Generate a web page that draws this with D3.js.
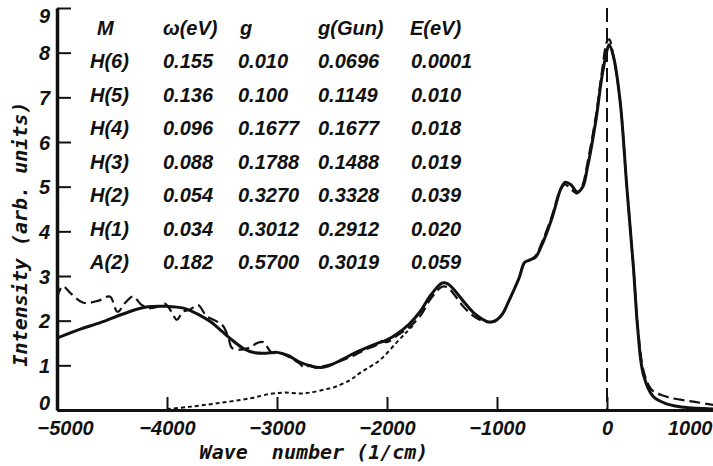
<!DOCTYPE html>
<html>
<head>
<meta charset="utf-8">
<script src="https://cdn.jsdelivr.net/npm/d3@7"></script>
<style>
  html, body { margin: 0; padding: 0; background: #fff; }
  svg { display: block; }
  .tick text { font-family: "Liberation Sans", Arial, sans-serif; font-style: italic; font-weight: bold; font-size: 20px; fill: #111; }
  .tbl { font-family: "Liberation Sans", Arial, sans-serif; font-style: italic; font-weight: bold; font-size: 20px; fill: #111; }
  .title { font-family: "DejaVu Sans Mono", monospace; font-style: italic; font-weight: bold; font-size: 20px; fill: #111; }
</style>
</head>
<body>
<svg id="chart" width="713" height="466"></svg>
<script>
// ---- data ----
const xTicks = [-5000, -4000, -3000, -2000, -1000, 0, 1000];
const yTicks = [0, 1, 2, 3, 4, 5, 6, 7, 8, 9];

const tableHeader = ["M", "ω(eV)", "g", "g(Gun)", "E(eV)"];
const modes  = ["H(6)", "H(5)", "H(4)", "H(3)", "H(2)", "H(1)", "A(2)"];
const omega  = ["0.155", "0.136", "0.096", "0.088", "0.054", "0.034", "0.182"];
const gVals  = ["0.010", "0.100", "0.1677", "0.1788", "0.3270", "0.3012", "0.5700"];
const gGun   = ["0.0696", "0.1149", "0.1677", "0.1488", "0.3328", "0.2912", "0.3019"];
const energy = ["0.0001", "0.010", "0.018", "0.019", "0.039", "0.020", "0.059"];

// theory (solid)
const theoryX = [-5000,-4800,-4600,-4400,-4200,-4000,-3850,-3700,-3600,-3500,-3400,-3300,-3200,-3100,-3000,-2900,-2800,-2700,-2600,-2500,-2400,-2300,-2200,-2100,-2000,-1900,-1800,-1700,-1600,-1500,-1450,-1400,-1300,-1200,-1100,-1050,-1000,-950,-900,-800,-750,-700,-650,-600,-500,-420,-380,-330,-270,-220,-180,-100,-50,0,20,60,120,180,240,280,330,420,550,700,1000];
const theoryY = [1.61,1.80,1.96,2.15,2.30,2.32,2.28,2.12,1.97,1.76,1.55,1.37,1.28,1.27,1.29,1.22,1.08,0.99,0.95,1.02,1.14,1.27,1.38,1.48,1.57,1.72,1.92,2.20,2.58,2.84,2.83,2.72,2.42,2.15,1.99,1.97,2.02,2.15,2.40,2.95,3.30,3.36,3.42,3.65,4.30,4.95,5.10,5.05,4.88,5.00,5.40,6.50,7.40,8.05,8.18,7.90,6.90,5.00,3.20,1.80,0.80,0.30,0.13,0.06,0.02];

// experiment (dashed)
const exptX = [-5000,-4950,-4870,-4760,-4620,-4520,-4450,-4380,-4310,-4230,-4155,-4080,-4018,-3960,-3910,-3855,-3790,-3718,-3640,-3560,-3490,-3440,-3410,-3330,-3245,-3180,-3127,-3045,-2980,-2900,-2800,-2750,-2700,-2650,-2600,-2500,-2400,-2300,-2200,-2100,-2050,-2000,-1900,-1800,-1700,-1600,-1500,-1450,-1400,-1300,-1200,-1100,-1050,-1000,-950,-900,-800,-750,-700,-650,-600,-500,-420,-380,-330,-270,-220,-180,-100,-50,0,20,60,120,180,240,280,330,380,420,500,600,800,1000];
const exptY = [2.50,2.77,2.60,2.40,2.45,2.54,2.20,2.40,2.54,2.35,2.28,2.32,2.38,2.20,2.02,2.20,2.25,2.35,2.10,2.00,1.88,1.60,1.39,1.35,1.40,1.50,1.52,1.28,1.28,1.20,1.05,0.95,1.00,0.95,0.97,1.03,1.12,1.22,1.35,1.45,1.55,1.52,1.68,1.85,2.10,2.50,2.76,2.75,2.62,2.30,2.08,1.97,1.97,2.00,2.15,2.40,2.95,3.28,3.36,3.45,3.70,4.35,4.95,5.05,4.95,4.85,5.05,5.50,6.60,7.50,8.25,8.30,7.90,6.90,5.00,3.20,1.85,0.90,0.55,0.42,0.33,0.26,0.18,0.10];

// additional contribution (dotted)
const dotX = [-4000,-3800,-3545,-3245,-3064,-2925,-2790,-2700,-2545,-2490,-2336,-2245,-2064,-1910,-1820,-1760];
const dotY = [0.02,0.07,0.15,0.26,0.36,0.39,0.37,0.39,0.47,0.50,0.67,0.83,1.12,1.52,1.75,1.90];

// ---- layout ----
const svg = d3.select("#chart");
const x = d3.scaleLinear().domain([-5000, 1000]).range([57, 717]);
const y = d3.scaleLinear().domain([0, 9]).range([410, 8]);

svg.append("defs").append("clipPath").attr("id", "clip")
  .append("rect").attr("x", 57).attr("y", 0).attr("width", 660).attr("height", 410);

const plot = svg.append("g").attr("clip-path", "url(#clip)");

const line = d3.line().x(d => x(d[0])).y(d => y(d[1])).curve(d3.curveCatmullRom.alpha(0.5));

// vertical dashed line at 0
plot.append("line")
  .attr("x1", x(0)).attr("x2", x(0)).attr("y1", y(9)).attr("y2", y(0))
  .attr("stroke", "#111").attr("stroke-width", 2).attr("stroke-dasharray", "14,6");

plot.append("path")
  .datum(dotX.map((v, i) => [v, dotY[i]]))
  .attr("d", line).attr("fill", "none").attr("stroke", "#111")
  .attr("stroke-width", 2).attr("stroke-dasharray", "4,3");

plot.append("path")
  .datum(exptX.map((v, i) => [v, exptY[i]]))
  .attr("d", line).attr("fill", "none").attr("stroke", "#111")
  .attr("stroke-width", 2.2).attr("stroke-dasharray", "11,5");

plot.append("path")
  .datum(theoryX.map((v, i) => [v, theoryY[i]]))
  .attr("d", line).attr("fill", "none").attr("stroke", "#111")
  .attr("stroke-width", 3).attr("stroke-linejoin", "round");

// axes
const xAxis = d3.axisBottom(x).tickValues(xTicks).tickSize(-13).tickSizeOuter(0)
  .tickFormat(d => d < 0 ? "\u2212" + Math.abs(d) : String(d)).tickPadding(10);
const gx = svg.append("g").attr("transform", "translate(0,410)").call(xAxis);
gx.select(".domain").attr("stroke", "#111").attr("stroke-width", 3);
gx.selectAll(".tick line").attr("stroke", "#111").attr("stroke-width", 2);
gx.selectAll(".tick text").attr("dy", null).attr("y", 25);
gx.selectAll(".tick").filter(d => d === -5000).select("text").attr("text-anchor", "start").attr("x", -20);
gx.selectAll(".tick").filter(d => d === 1000).select("text").attr("text-anchor", "end").attr("x", -5);

const yAxis = d3.axisLeft(y).tickValues(yTicks).tickSize(-14).tickSizeOuter(0).tickPadding(7);
const gy = svg.append("g").attr("transform", "translate(57,0)").call(yAxis);
gy.select(".domain").attr("stroke", "#111").attr("stroke-width", 3.5);
gy.selectAll(".tick line").attr("stroke", "#111").attr("stroke-width", 2);
gy.selectAll(".tick text").attr("dy", "0.36em");
gy.selectAll(".tick").filter(d => d === 9).select("text").attr("dy", "0.7em");
gy.selectAll(".tick").filter(d => d === 0).select("text").attr("dy", "-0.05em");

// axis titles
svg.append("text").attr("class", "title")
  .attr("x", 314).attr("y", 459).attr("text-anchor", "middle")
  .attr("xml:space", "preserve").style("white-space", "pre")
  .text("Wave  number (1/cm)");
svg.append("text").attr("class", "title")
  .attr("transform", "translate(27,234) rotate(-90)").attr("text-anchor", "middle")
  .text("Intensity (arb. units)");

// table
const colX = [90, 163, 238, 318, 411];
const headX = [97, 163, 240, 318, 410];
const rowY = i => 68 + i * 33.5;
const tbl = svg.append("g");
tbl.selectAll("text.h").data(tableHeader).join("text")
  .attr("class", "tbl h").attr("x", (d, i) => headX[i]).attr("y", 35).text(d => d);
const columns = [modes, omega, gVals, gGun, energy];
columns.forEach((col, c) => {
  tbl.selectAll("text.c" + c).data(col).join("text")
    .attr("class", "tbl c" + c).attr("x", colX[c]).attr("y", (d, i) => rowY(i)).text(d => d);
});
</script>
</body>
</html>
